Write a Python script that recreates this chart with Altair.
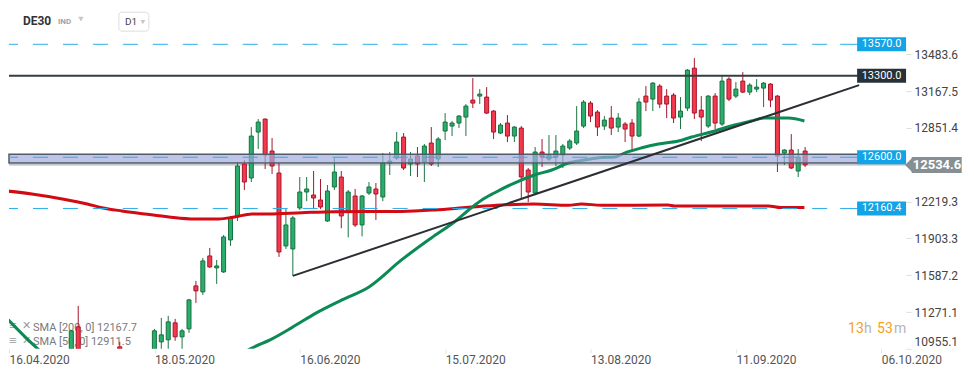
import altair as alt
import pandas as pd

# ---------------- data ----------------
day = [9, 10, 16] + list(range(21, 116))
opn = [10860, 11143.8, 10972.3,
       10880, 11015.1, 11032.3, 11178.1, 11058, 11126.7, 11495.5, 11444, 11752.9, 11650,
       11615.6, 11890.1, 12087.4, 12542, 12421.9, 12816.5, 12928, 12653.5, 12464.8, 11838.6,
       11812.9, 12164.6, 12301.8, 12276, 12233.2, 12053, 12344.7, 12430.5, 12130.3, 12267.5,
       12018.8, 12293.3, 12327.6, 12258.9, 12550.6, 12593.5, 12773.6, 12542, 12610.7, 12559.2,
       12722.2, 12584.9, 12825.1, 12868, 12893.7, 12945.2, 13091, 13125.4, 13116.8, 12996.7,
       12808, 12893.7, 12782.2, 12850.8, 12490.5, 12293.3, 12645, 12584.9, 12602, 12619.2,
       12679.3, 12722.2, 12868, 13065.3, 12988.1, 12868, 12936.6, 12859.4, 12885.2, 12893.7,
       12782.2, 13125.4, 13099.6, 13211.1, 13125.4, 13133.9, 12945.2, 13022.4, 13365.5, 13005.2,
       12868, 13125.4, 12885.2, 13271.2, 13125.4, 13254, 13159.6, 13185.4, 13194, 13228.3,
       13125.4, 12636.4, 12662.1, 12481.9, 12653.5]
high = [11118, 11324, 11015.1,
        11126.7, 11221, 11238.2, 11212.4, 11126.7, 11384, 11538.4, 11735.7, 11821.5, 11718.5,
        11933, 12096, 12559.2, 12576.3, 12859.4, 12928, 12932, 12765, 12550.6, 12156,
        12096, 12430.5, 12430.5, 12482, 12413.4, 12361.9, 12593.5, 12482, 12319, 12327.6,
        12276, 12387.6, 12379, 12636.4, 12645, 12816.5, 12808, 12645, 12688, 12713.6,
        12859.4, 12773.6, 12979.5, 12911, 12962.4, 13056.7, 13279.7, 13185.4, 13202.5, 13005,
        12893.7, 12962.4, 12868, 12868, 12507.7, 12688, 12756.5, 12790.8, 12790.8, 12713.6,
        12756.5, 13039.6, 13091, 13082.4, 13005, 12953.8, 13039.6, 12979.5, 12902.3, 12928,
        13108.2, 13211.1, 13245.4, 13228.3, 13185.4, 13151, 13116.8, 13357, 13451.3, 13125.4,
        13133.9, 13151, 13305.5, 13288.3, 13245.4, 13331.2, 13236.8, 13271.2, 13245.4, 13236.8,
        13133.9, 12670.7, 12799.4, 12670.7, 12688]
low = [10830, 10840, 10850,
       10860, 10945, 10945, 11023.7, 10947, 11092.3, 11349.7, 11418.3, 11650, 11512.7,
       11607, 11838.6, 12053, 12319, 12387.6, 12670.7, 12499, 12456.3, 11744.3, 11812.9,
       11581.3, 12147.4, 12223, 12156, 12156, 12044.5, 12319, 11990.6, 11912.4, 12001.6,
       11920.9, 12276, 12061.7, 12223, 12447.7, 12576.3, 12490.5, 12439, 12430.5, 12387.6,
       12524.9, 12516.3, 12748, 12782.2, 12850.8, 12782.2, 13022.4, 13056.7, 12971, 12756.5,
       12799.4, 12730.7, 12730.7, 12250.4, 12215, 12276, 12516.3, 12567.8, 12524.9, 12507.7,
       12662.1, 12705, 12850.8, 12902.3, 12782.2, 12833.7, 12790.8, 12816.5, 12730.7, 12645,
       12773.6, 12996.7, 12996.7, 13022.4, 12936.6, 12893.7, 12842.3, 12996.7, 12928, 12739.3,
       12850.8, 12842.3, 12868, 13082.4, 13108.2, 13151, 13133.9, 13159.6, 13030.9, 13030.9,
       12473.4, 12533.4, 12499, 12430.5, 12516.3]
close = [11109.5, 10870, 10900,
         11109.5, 11075.2, 11186.7, 11058, 11109.5, 11375.4, 11452.6, 11710, 11658.5, 11667.1,
         11915.8, 12078.8, 12524.9, 12387.6, 12782.2, 12902.3, 12619.2, 12524.9, 11787, 12018.8,
         12078.8, 12301.8, 12327.6, 12250.4, 12173.1, 12310.4, 12473.4, 12096, 12301.8, 12018.8,
         12267.5, 12344.7, 12284.7, 12550.6, 12567.8, 12730.7, 12507.7, 12584.9, 12542, 12696.4,
         12542, 12756.5, 12902.3, 12893.7, 12953.8, 13039.6, 13065.3, 13142.5, 12979.5, 12816.5,
         12876.6, 12782.2, 12859.4, 12430.5, 12301.8, 12645, 12602, 12619.2, 12653.5, 12696.4,
         12739.3, 12825.1, 13074, 12953.8, 12859.4, 12919.5, 12850.8, 12936.6, 12842.3, 12782.2,
         13074, 13074, 13236.8, 13056.7, 13056.7, 12936.6, 12996.7, 13348.4, 12979.5, 12945.2,
         13125.4, 12893.7, 13254, 13099.6, 13185.4, 13159.6, 13219.7, 13202.5, 13236.8, 13091,
         12610.7, 12662.1, 12507.7, 12602, 12534.6]

sma200_day = [-0.3, 3.3, 7.7, 11.3, 13.4, 16.3, 19.6, 23.1, 26.8, 30.3, 32.6, 35.1, 37.5, 42.3,
              47.0, 56.7, 61.5, 66.4, 71.1, 75.9, 80.8, 82.7, 85.6, 95.2, 96.1, 109.7, 111.5, 114.9]
sma200_val = [12310.4, 12284.7, 12242, 12199, 12167.2, 12139, 12113.3, 12087.4, 12070.2, 12070.2,
              12087.4, 12113.3, 12113.3, 12124.3, 12133, 12134.7, 12147.4, 12170.6, 12190.3, 12199,
              12187.7, 12199, 12187.7, 12190.3, 12181.7, 12181.7, 12167.7, 12167.7]
sma50_day = [-0.1, 4.0, 8, 14, 20, 26, 31, 34.6, 38.0, 40.8, 44.4, 48.1, 52.0, 56.7, 61.0, 64.7,
             66.4, 68.3, 70.1, 73.0, 75.9, 78.4, 80.8, 83.1, 85.6, 87.5, 88.9, 91.3, 93.8, 96.7,
             98.6, 101.4, 104.8, 107.2, 109.1, 111.1, 112.6, 114.9]
sma50_val = [11203.9, 10963.7, 10780, 10600, 10540, 10640, 10800, 10946.5, 11040.9, 11135.2,
             11263.9, 11375.4, 11487, 11718.5, 11907.3, 12061.7, 12147.4, 12233.2, 12293.3, 12379,
             12447.7, 12490.5, 12550.6, 12576.3, 12597.8, 12602, 12636.4, 12679.3, 12713.6, 12739.3,
             12773.6, 12816.5, 12876.6, 12911, 12936.6, 12936.6, 12936.6, 12911.5]

trend_day = [41, 122.8]
trend_val = [11581.3, 13219.7]

dashed_levels = [13570.0, 12600.0, 12160.4]
resist_level = 13300.0
band_lo, band_hi = 12550.0, 12625.0
last_price = 12534.6

tick_days = [0, 21, 42, 63, 84, 105, 126]
tick_labels = ["16.04.2020", "18.05.2020", "16.06.2020", "15.07.2020",
               "13.08.2020", "11.09.2020", "06.10.2020"]
price_ticks = [10955.1, 11271.1, 11587.2, 11903.3, 12219.3, 12851.4, 13167.5, 13483.6]
sma_legend = ["SMA [200, 0] 12167.7", "SMA [50, 0] 12911.5"]

# ---------------- scales / axes ----------------
W, H = 958, 341
FONT = "Roboto"
xs = alt.Scale(domain=[0, 138.24], nice=False, zero=False, padding=0)
ys = alt.Scale(domain=[10955.1, 13880.2], nice=False, zero=False, padding=0)

x_expr = " : ".join(f"datum.value == {d} ? '{l}'" for d, l in zip(tick_days, tick_labels)) + " : ''"
xaxis = alt.Axis(values=tick_days, labelExpr=x_expr, domain=False, grid=False, tickSize=4,
                 tickColor="#e2e2e2", labelAlign="left", labelFont=FONT, labelFontSize=12,
                 labelColor="#555555", labelPadding=2, labelFlush=False, labelOverlap=False,
                 labelBound=False, title=None)
yaxis = alt.Axis(values=price_ticks, format=".1f", orient="right", offset=-60, domain=False,
                 grid=False, tickSize=5, tickColor="#dddddd", labelFont=FONT, labelFontSize=12,
                 labelColor="#444444", labelPadding=3, labelFlush=True, labelOverlap=False,
                 title=None)


def X(f):
    return alt.X(f, scale=xs, axis=xaxis)


def Y(f):
    return alt.Y(f, scale=ys, axis=yaxis)


# ---------------- layers ----------------
cdf = pd.DataFrame({"d": day, "o": opn, "h": high, "l": low, "c": close})
cbase = alt.Chart(cdf).transform_calculate(up="datum.c >= datum.o ? 'up' : 'down'")

wick = cbase.mark_rule(strokeWidth=1, clip=True).encode(
    x=X("d:Q"), y=Y("l:Q"), y2="h:Q",
    color=alt.Color("up:N", scale=alt.Scale(domain=["up", "down"], range=["#1c7544", "#a3172b"]),
                    legend=None))
body = cbase.mark_bar(size=4, strokeWidth=1, clip=True).encode(
    x=X("d:Q"), y=Y("o:Q"), y2="c:Q",
    fill=alt.Fill("up:N", scale=alt.Scale(domain=["up", "down"], range=["#2bae6d", "#f23a4d"]),
                  legend=None),
    stroke=alt.Stroke("up:N", scale=alt.Scale(domain=["up", "down"], range=["#16703f", "#a8142b"]),
                      legend=None))

s200 = alt.Chart(pd.DataFrame({"d": sma200_day, "v": sma200_val})).mark_line(
    color="#d20a14", strokeWidth=3, clip=True, interpolate="monotone").encode(x=X("d:Q"), y=Y("v:Q"))
s50 = alt.Chart(pd.DataFrame({"d": sma50_day, "v": sma50_val})).mark_line(
    color="#0b8a55", strokeWidth=3, clip=True, interpolate="monotone").encode(x=X("d:Q"), y=Y("v:Q"))

trend = alt.Chart(pd.DataFrame({"d": trend_day, "v": trend_val})).mark_line(
    color="#2b2f33", strokeWidth=2).encode(x=X("d:Q"), y=Y("v:Q"))

band = alt.Chart(pd.DataFrame({"lo": [band_lo], "hi": [band_hi]})).mark_rect(
    fill="#a3addf", fillOpacity=0.7, stroke="#505b66", strokeWidth=1.5).encode(
    x=alt.value(0), x2=alt.value(851), y=Y("lo:Q"), y2="hi:Q")

lvl_df = pd.DataFrame({"v": dashed_levels})
dashed = alt.Chart(lvl_df).mark_rule(color="#2aaeea", strokeWidth=1, strokeDash=[15, 15],
                                     strokeDashOffset=6).encode(
    y=Y("v:Q"), x=alt.value(0), x2=alt.value(832))
stub = alt.Chart(lvl_df).mark_rule(color="#2aaeea", strokeWidth=1).encode(
    y=Y("v:Q"), x=alt.value(832), x2=alt.value(850))
res_df = pd.DataFrame({"v": [resist_level]})
resist = alt.Chart(res_df).mark_rule(color="#343d44", strokeWidth=2).encode(
    y=Y("v:Q"), x=alt.value(0), x2=alt.value(850))

last_df = pd.DataFrame({"v": [last_price]})
last_line = alt.Chart(last_df).mark_rule(color="#9aa4a8", strokeWidth=1).encode(
    y=Y("v:Q"), x=alt.value(0), x2=alt.value(900))

blue_box = alt.Chart(lvl_df).mark_tick(orient="horizontal", size=49, thickness=14, color="#12a4e6",
                                       opacity=1).encode(y=Y("v:Q"), x=alt.value(873.5))
blue_txt = alt.Chart(lvl_df).mark_text(font=FONT, fontSize=11, color="white", align="center",
                                       baseline="middle").encode(
    y=Y("v:Q"), x=alt.value(873.5), text=alt.Text("v:Q", format=".1f"))
dark_box = alt.Chart(res_df).mark_tick(orient="horizontal", size=49, thickness=14, color="#263238",
                                       opacity=1).encode(y=Y("v:Q"), x=alt.value(873.5))
dark_txt = alt.Chart(res_df).mark_text(font=FONT, fontSize=11, color="white", align="center",
                                       baseline="middle").encode(
    y=Y("v:Q"), x=alt.value(873.5), text=alt.Text("v:Q", format=".1f"))
gray_box = alt.Chart(last_df).mark_tick(orient="horizontal", size=50, thickness=16, color="#868f93",
                                        opacity=1).encode(y=Y("v:Q"), x=alt.value(928.7))
gray_arrow = alt.Chart(last_df).mark_point(shape="M-1,0L0,-1L0,1Z", size=256, filled=True,
                                           color="#868f93", opacity=1).encode(
    y=Y("v:Q"), x=alt.value(905))
gray_txt = alt.Chart(last_df).mark_text(font=FONT, fontSize=13, fontWeight="bold", color="white",
                                        align="center", baseline="middle").encode(
    y=Y("v:Q"), x=alt.value(929), text=alt.Text("v:Q", format=".1f"))


def label(txt, x, y, size=12, color="#333333", weight="normal", align="left"):
    return alt.Chart(pd.DataFrame({"t": [txt]})).mark_text(
        font=FONT, fontSize=size, color=color, fontWeight=weight, align=align,
        baseline="middle").encode(x=alt.value(x), y=alt.value(y), text="t:N")


legend_layers = [
    label("≡", 0, 318, 14, "#9a9a9a"), label("✕", 13, 318, 11, "#9a9a9a"),
    label("≡", 0, 333, 14, "#9a9a9a"), label("✕", 13, 333, 11, "#9a9a9a"),
    label(sma_legend[0], 24, 320, 11, "#7a7a7a"),
    label(sma_legend[1], 24, 334.5, 11, "#7a7a7a"),
]

d1_box = alt.Chart(pd.DataFrame({"a": [0]})).mark_rect(
    fill="white", stroke="#dddddd", strokeWidth=1, cornerRadius=3).encode(
    x=alt.value(110), x2=alt.value(140), y=alt.value(4), y2=alt.value(23))
tri_df = pd.DataFrame({"a": [0]})
tri1 = alt.Chart(tri_df).mark_point(shape="triangle-down", size=30, filled=True, color="#c8c8c8",
                                    opacity=1).encode(x=alt.value(72), y=alt.value(11))
tri2 = alt.Chart(tri_df).mark_point(shape="triangle-down", size=24, filled=True, color="#c8c8c8",
                                    opacity=1).encode(x=alt.value(134), y=alt.value(14))

header_layers = [
    label("DE30", 14, 13, 12, "#333333", "bold"),
    label("IND", 49, 13.5, 8, "#9aa3ab", "bold"),
    d1_box, tri1, tri2,
    label("D1", 116, 14, 10, "#444444"),
    label("13", 840, 321, 14, "#f5a01d"),
    label("h", 856, 321, 14, "#b5b5b5"),
    label("53", 869, 321, 14, "#f5a01d"),
    label("m", 886, 321, 14, "#b5b5b5"),
]

chart = alt.layer(
    *legend_layers, last_line, wick, body, s200, s50, band, dashed, stub, resist, trend,
    blue_box, blue_txt, dark_box, dark_txt, gray_arrow, gray_box, gray_txt, *header_layers
).resolve_scale(color="independent").properties(
    width=W, height=H, padding=0, background="white"
).configure_view(stroke=None)

chart.save("out.html", embed_options={"renderer": "svg", "actions": False})
